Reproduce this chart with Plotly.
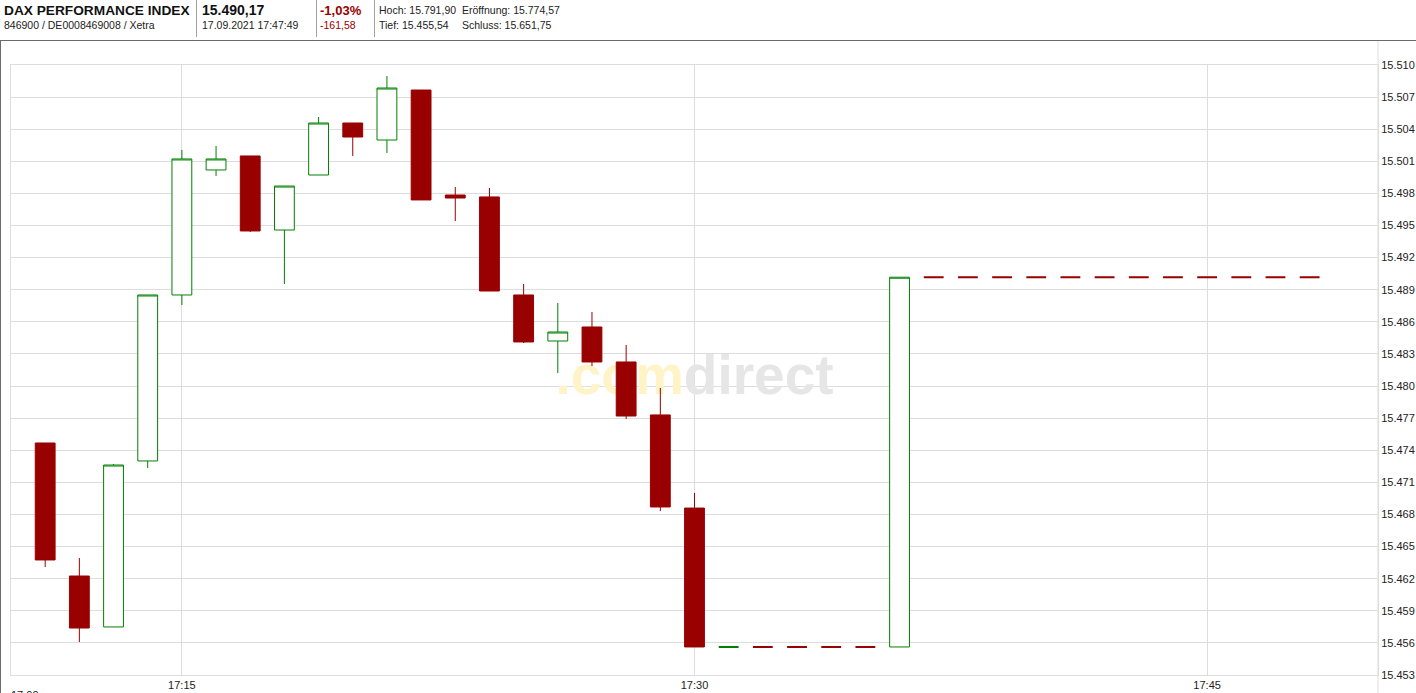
import plotly.graph_objects as go

# ---------------- data ----------------
DAY = "2021-09-17 "
times = ["17:11", "17:12", "17:13", "17:14", "17:15", "17:16", "17:17", "17:18", "17:19", "17:20",
         "17:21", "17:22", "17:23", "17:24", "17:25", "17:26", "17:27", "17:28", "17:29", "17:30",
         "17:31", "17:32", "17:33", "17:34", "17:35", "17:36", "17:37", "17:38", "17:39", "17:40",
         "17:41", "17:42", "17:43", "17:44", "17:45", "17:46", "17:47", "17:48"]
opens = [15474.68, 15462.25, 15457.49, 15473.00, 15488.51, 15500.19, 15501.50, 15494.58, 15499.72, 15504.58,
         15502.99, 15507.66, 15497.85, 15497.67, 15488.51, 15484.21, 15485.52, 15482.25, 15477.30, 15468.60,
         15455.62, 15455.62, 15455.62, 15455.62, 15455.62, 15455.62, 15490.17, 15490.17, 15490.17, 15490.17,
         15490.17, 15490.17, 15490.17, 15490.17, 15490.17, 15490.17, 15490.17, 15490.17]
highs = [15474.68, 15463.93, 15472.72, 15488.51, 15502.06, 15502.43, 15501.50, 15498.69, 15505.14, 15504.58,
         15508.97, 15507.66, 15498.60, 15498.51, 15489.54, 15487.76, 15486.92, 15483.84, 15479.82, 15470.01,
         15455.62, 15455.62, 15455.62, 15455.62, 15455.62, 15490.17, 15490.17, 15490.17, 15490.17, 15490.17,
         15490.17, 15490.17, 15490.17, 15490.17, 15490.17, 15490.17, 15490.17, 15490.17]
lows = [15463.09, 15456.08, 15457.49, 15472.34, 15487.57, 15499.63, 15494.39, 15489.54, 15499.72, 15501.50,
        15501.78, 15497.39, 15495.42, 15488.88, 15484.02, 15481.22, 15481.87, 15476.92, 15468.32, 15455.62,
        15455.62, 15455.62, 15455.62, 15455.62, 15455.62, 15455.62, 15490.17, 15490.17, 15490.17, 15490.17,
        15490.17, 15490.17, 15490.17, 15490.17, 15490.17, 15490.17, 15490.17, 15490.17]
closes = [15463.75, 15457.39, 15472.62, 15488.51, 15501.22, 15501.22, 15494.49, 15498.69, 15504.58, 15503.27,
          15507.85, 15497.39, 15497.57, 15488.88, 15484.12, 15485.05, 15482.25, 15477.20, 15468.70, 15455.62,
          15455.62, 15455.62, 15455.62, 15455.62, 15455.62, 15490.17, 15490.17, 15490.17, 15490.17, 15490.17,
          15490.17, 15490.17, 15490.17, 15490.17, 15490.17, 15490.17, 15490.17, 15490.17]
directions = ["down", "down", "up", "up", "up", "up", "down", "up", "up", "down",
              "up", "down", "down", "down", "down", "up", "down", "down", "down", "down",
              "up", "down", "down", "down", "down", "up", "down", "down", "down", "down",
              "down", "down", "down", "down", "down", "down", "down", "down"]

x_range = ["17:10", "17:50"]
x_tick0 = "17:15"
y_range = [15453, 15510]
y_dtick = 3

header_name = "DAX PERFORMANCE INDEX"
header_ids = "846900 / DE0008469008 / Xetra"
header_last = "15.490,17"
header_time = "17.09.2021 17:47:49"
header_pct = "-1,03%"
header_abs = "-161,58"
header_high = "Hoch: 15.791,90"
header_open = "Eröffnung: 15.774,57"
header_low = "Tief: 15.455,54"
header_close = "Schluss: 15.651,75"
watermark_a = ".com"
watermark_b = "direct"
corner_label = "17:00"

# ---------------- styling / layout ----------------
W, H = 1416, 693
L, R, T, B = 11, 1378, 65, 675
RED = "#990000"
GREEN = "#008000"
GRID = "#dddddd"
FONT = "Arial, Liberation Sans, sans-serif"


def px(x):
    return (x - L) / (R - L)


def py(y):
    return (B - y) / (B - T)


xs = [DAY + t for t in times]

fig = go.Figure()

# watermark (bar layer sits below candlesticks)
fig.add_trace(go.Bar(
    x=[DAY + "17:30"], y=[10], base=[15476], width=[10 * 60000],
    marker=dict(color="rgba(0,0,0,0)", line=dict(width=0)),
    text=['<span style="color:#fff3c8">' + watermark_a + '</span><span style="color:#e6e6e6">' + watermark_b + '</span>'],
    textposition="inside", insidetextanchor="middle", constraintext="none", textangle=0,
    textfont=dict(family=FONT, size=55, weight="bold", color="#e6e6e6"),
    cliponaxis=False, hoverinfo="skip", showlegend=False,
))


def add_group(indices, color, fill, width):
    if not indices:
        return
    style = dict(line=dict(color=color, width=width), fillcolor=fill)
    fig.add_trace(go.Candlestick(
        x=[xs[i] for i in indices],
        open=[opens[i] for i in indices],
        high=[highs[i] for i in indices],
        low=[lows[i] for i in indices],
        close=[closes[i] for i in indices],
        increasing=style, decreasing=style, whiskerwidth=0,
        hoverinfo="skip", showlegend=False,
    ))


def is_flat(i):
    return opens[i] == closes[i] == highs[i] == lows[i]


n = len(times)
add_group([i for i in range(n) if directions[i] == "up" and not is_flat(i)], GREEN, "white", 1)
add_group([i for i in range(n) if directions[i] == "down" and not is_flat(i)], RED, RED, 1)
add_group([i for i in range(n) if directions[i] == "up" and is_flat(i)], GREEN, GREEN, 2)
add_group([i for i in range(n) if directions[i] == "down" and is_flat(i)], RED, RED, 2)

shapes = [
    # header bottom border
    dict(type="line", xref="paper", yref="paper", x0=px(0), x1=px(W), y0=py(40.5), y1=py(40.5),
         line=dict(color="#6b6b6b", width=1)),
    # left page border
    dict(type="line", xref="paper", yref="paper", x0=px(0.5), x1=px(0.5), y0=py(40), y1=py(H),
         line=dict(color="#6b6b6b", width=1)),
    # right axis line extension
    dict(type="line", xref="paper", yref="paper", x0=1, x1=1, y0=py(H), y1=py(41),
         line=dict(color=GRID, width=1)),
]
for sx in [196.5, 316.5, 374.5]:
    shapes.append(dict(type="line", xref="paper", yref="paper", x0=px(sx), x1=px(sx), y0=py(0), y1=py(37),
                       line=dict(color="#a0a0a0", width=1)))


def ann(text, x, y, size=10.5, color="#222", bold=False, yanchor="middle"):
    return dict(text=text, xref="paper", yref="paper", x=px(x), y=py(y), xanchor="left", yanchor=yanchor,
                showarrow=False, borderpad=0,
                font=dict(family=FONT, size=size, color=color, weight="bold" if bold else "normal"))


annotations = [
    ann(header_name, 3, 10, size=13.7, color="#111", bold=True),
    ann(header_ids, 3, 25, size=10.5),
    ann(header_last, 201, 10, size=14, color="#111", bold=True),
    ann(header_time, 201, 25, size=10.5),
    ann(header_pct, 319, 10, size=13, color=RED, bold=True),
    ann(header_abs, 319, 25, size=10.5, color=RED),
    ann(header_high, 378, 10, size=10.5),
    ann(header_open, 461, 10, size=10.5),
    ann(header_low, 378, 25, size=10.5),
    ann(header_close, 461, 25, size=10.5),
    ann(corner_label, 10, 688, size=11, yanchor="top"),
]

fig.update_layout(
    width=W, height=H,
    margin=dict(l=L, r=W - R, t=T, b=H - B, pad=0, autoexpand=False),
    paper_bgcolor="white", plot_bgcolor="white",
    showlegend=False, hovermode=False,
    boxgap=0.42, boxgroupgap=0, barmode="overlay",
    separators=",.",
    font=dict(family=FONT, size=11, color="#222"),
    shapes=shapes, annotations=annotations,
    xaxis=dict(type="date", range=[DAY + x_range[0], DAY + x_range[1]],
               tick0=DAY + x_tick0, dtick=15 * 60000, tickformat="%H:%M",
               showgrid=True, gridcolor=GRID, gridwidth=1, zeroline=False,
               showline=True, linecolor=GRID, linewidth=1, mirror=True, ticks="",
               tickfont=dict(family=FONT, size=11, color="#222"),
               rangeslider=dict(visible=False), fixedrange=True),
    yaxis=dict(side="right", range=y_range, tick0=y_range[0], dtick=y_dtick, tickformat=",d",
               showgrid=True, gridcolor=GRID, gridwidth=1, zeroline=False,
               showline=True, linecolor=GRID, linewidth=1, mirror=True, ticks="",
               tickfont=dict(family=FONT, size=11, color="#222"), fixedrange=True),
)

fig.write_html("out.html", config={"displayModeBar": False},
               post_script="document.body.style.margin='0';document.body.style.overflow='hidden';")
